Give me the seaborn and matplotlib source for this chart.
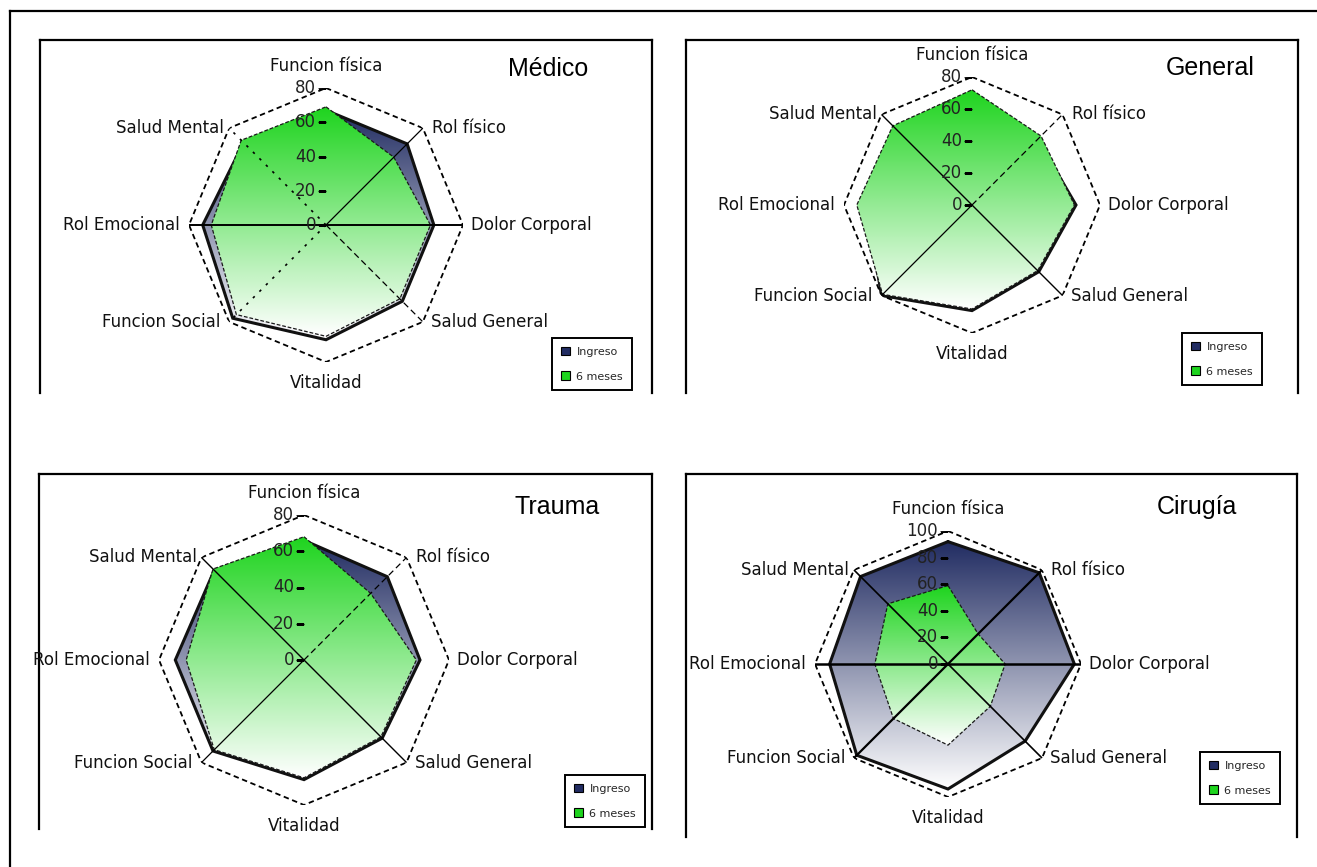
import numpy as np
import matplotlib
matplotlib.use("Agg")
import matplotlib.pyplot as plt
import seaborn as sns
from matplotlib.image import AxesImage
from matplotlib.colors import to_rgb
from matplotlib.patches import Patch

sns.set_theme(style="white")
plt.rcParams["font.family"] = ["DejaVu Sans"]

# --- data -------------------------------------------------------------
categories = ["Funcion física", "Rol físico", "Dolor Corporal", "Salud General",
              "Vitalidad", "Funcion Social", "Rol Emocional", "Salud Mental"]
series_names = ["Ingreso", "6 meses"]
panel_titles = ["Médico", "General", "Trauma", "Cirugía"]

ticks_80 = [0, 20, 40, 60, 80]
ticks_100 = [0, 20, 40, 60, 80, 100]

medico_ingreso = [67, 67, 63, 63, 67, 77, 72, 68]
medico_6meses = [69, 56, 61, 61, 65, 74, 67, 70]

general_ingreso = [68, 58, 65, 59, 66, 80, 66, 66]
general_6meses = [72, 61, 64, 58, 65, 79, 72, 70]

trauma_ingreso = [66, 65, 64, 61, 66, 71, 71, 70]
trauma_6meses = [68, 52, 62, 60, 65, 70, 65, 71]

cirugia_ingreso = [92, 97, 95, 82, 94, 97, 89, 93]
cirugia_6meses = [59, 32, 43, 45, 61, 58, 55, 64]

# --- styling ----------------------------------------------------------
NAVY = "#212C62"
GREEN = "#1ED41E"
W, H = 1317, 867

fig = plt.figure(figsize=(W / 100, H / 100), dpi=100)
fig.patch.set_facecolor("white")


def px_rect(left, top, width, height):
    return [left / W, 1 - (top + height) / H, width / W, height / H]


# outer border (top and left edges)
border = fig.add_axes(px_rect(10, 11, W, H))
border.set_xticks([])
border.set_yticks([])
border.patch.set_visible(False)
for side in ("right", "bottom"):
    border.spines[side].set_visible(False)
for side in ("left", "top"):
    border.spines[side].set_linewidth(1.6)
    border.spines[side].set_color("black")


def gradient_polygon(ax, theta, values, rmax, color, z, edgecolor, lw, ls):
    th = np.r_[theta, theta[:1]]
    rr = np.r_[values, values[:1]]
    clip = ax.fill(th, rr, facecolor="none", edgecolor="none")[0]
    ys = 0.5 + 0.5 * np.asarray(values, float) / rmax * np.cos(theta)
    t = np.linspace(0, 1, 256)[:, None, None]
    rgb = np.array(to_rgb(color))[None, None, :]
    shade = 1 - t * (1 - rgb)          # white at the bottom, full colour on top
    im = AxesImage(ax, extent=(0, 1, ys.min(), ys.max()), origin="lower",
                   interpolation="bilinear", transform=ax.transAxes)
    im.set_data(shade)
    im.set_clip_path(clip)
    im.set_zorder(z)
    ax.add_image(im)
    ax.plot(th, rr, color=edgecolor, lw=lw, ls=ls, zorder=z + 0.5,
            solid_joinstyle="miter")


# label placement around the octagon: (dx px, dy px, ha)
label_offsets = [(0, 22, "center"), (9, 0, "left"), (8, 0, "left"), (8, 0, "left"),
                 (0, -21, "center"), (-9, 0, "right"), (-9, 0, "right"), (-5, 0, "right")]


def radar(frame, center, radius, ticks, ingreso, seis, spokes, title_xy, title, legend_xy):
    l, t, r, b = frame
    bg = fig.add_axes(px_rect(l, t, r - l, b - t))
    bg.set_xticks([])
    bg.set_yticks([])
    bg.patch.set_visible(False)
    bg.spines["bottom"].set_visible(False)
    for side in ("left", "top", "right"):
        bg.spines[side].set_linewidth(1.6)
        bg.spines[side].set_color("black")

    cx, cy = center
    ax = fig.add_axes(px_rect(cx - radius, cy - radius, 2 * radius, 2 * radius),
                      projection="polar")
    ax.set_theta_zero_location("N")
    ax.set_theta_direction(-1)
    ax.grid(False)
    ax.spines["polar"].set_visible(False)
    ax.patch.set_visible(False)
    ax.set_xticks([])
    ax.set_yticks([])

    rmax = ticks[-1]
    theta = np.linspace(0, 2 * np.pi, len(categories), endpoint=False)

    gradient_polygon(ax, theta, ingreso, rmax, NAVY, 2, "#111111", 2.2, "-")
    gradient_polygon(ax, theta, seis, rmax, GREEN, 4, "#1a1a1a", 0.9, (0, (3, 1.5)))

    # spokes
    for th_i, style in zip(theta, spokes):
        if style is not None:
            ax.plot([th_i, th_i], [0, rmax], color="black", ls=style[0], lw=style[1], zorder=6)

    # outer octagon grid line
    ax.plot(np.r_[theta, theta[:1]], [rmax] * (len(theta) + 1), color="black",
            ls=(0, (3, 2)), lw=1.3, zorder=6)

    # value axis: tick marks and labels along the top spoke
    ax.plot([0] * len(ticks), ticks, ls="none", marker=0, ms=6, mew=1.0,
            color="black", zorder=7)
    for v in ticks:
        ax.annotate(str(v), xy=(0, v), xytext=(-10, 0), textcoords="offset pixels",
                    ha="right", va="center", fontsize=12, color="#222222", zorder=8)

    # category labels
    for th_i, name, (dx, dy, ha) in zip(theta, categories, label_offsets):
        ax.annotate(name, xy=(th_i, rmax), xytext=(dx, dy), textcoords="offset pixels",
                    ha=ha, va="center", fontsize=12, color="#111111",
                    annotation_clip=False)

    ax.set_xlim(0, 2 * np.pi)
    ax.set_ylim(0, rmax)

    fig.text(title_xy[0] / W, 1 - title_xy[1] / H, title, ha="center", va="baseline",
             fontsize=18, family=["Liberation Sans"], color="black")

    handles = [Patch(facecolor=NAVY, edgecolor="black", lw=0.8),
               Patch(facecolor=GREEN, edgecolor="black", lw=0.8)]
    leg = fig.legend(handles, series_names, loc="upper left",
                     bbox_to_anchor=(legend_xy[0] / W, 1 - legend_xy[1] / H),
                     bbox_transform=fig.transFigure, fontsize=8, frameon=True,
                     fancybox=False, edgecolor="black", framealpha=1,
                     handlelength=0.8, handleheight=0.8, handletextpad=0.6,
                     labelspacing=1.3, borderpad=0.8, borderaxespad=0)
    leg.get_frame().set_linewidth(1.4)


S, D, DT = "-", (0, (5, 3)), (0, (1.5, 4))

radar((40, 40, 652, 393), (326, 225), 137, ticks_80, medico_ingreso, medico_6meses,
      [None, (S, 0.9), (S, 1.4), (D, 0.9), None, (DT, 1.2), (S, 1.4), (DT, 1.2)],
      (548, 76), panel_titles[0], (552, 338))

radar((686, 40, 1298, 393), (972, 205), 128, ticks_80, general_ingreso, general_6meses,
      [None, (D, 0.9), None, (S, 1.0), None, (S, 0.9), None, (S, 1.0)],
      (1210, 75), panel_titles[1], (1182, 333))

radar((39, 474, 652, 829), (304, 660), 145, ticks_80, trauma_ingreso, trauma_6meses,
      [None, (D, 0.9), None, (S, 1.0), None, (S, 0.9), None, (S, 1.0)],
      (557, 514), panel_titles[2], (565, 775))

radar((686, 474, 1297, 837), (948, 664), 133, ticks_100, cirugia_ingreso, cirugia_6meses,
      [None, (S, 1.6), (S, 1.8), (S, 1.2), None, (S, 1.6), (S, 1.8), (S, 1.2)],
      (1197, 514), panel_titles[3], (1200, 752))

fig.savefig("out.png", dpi=100, facecolor="white")
